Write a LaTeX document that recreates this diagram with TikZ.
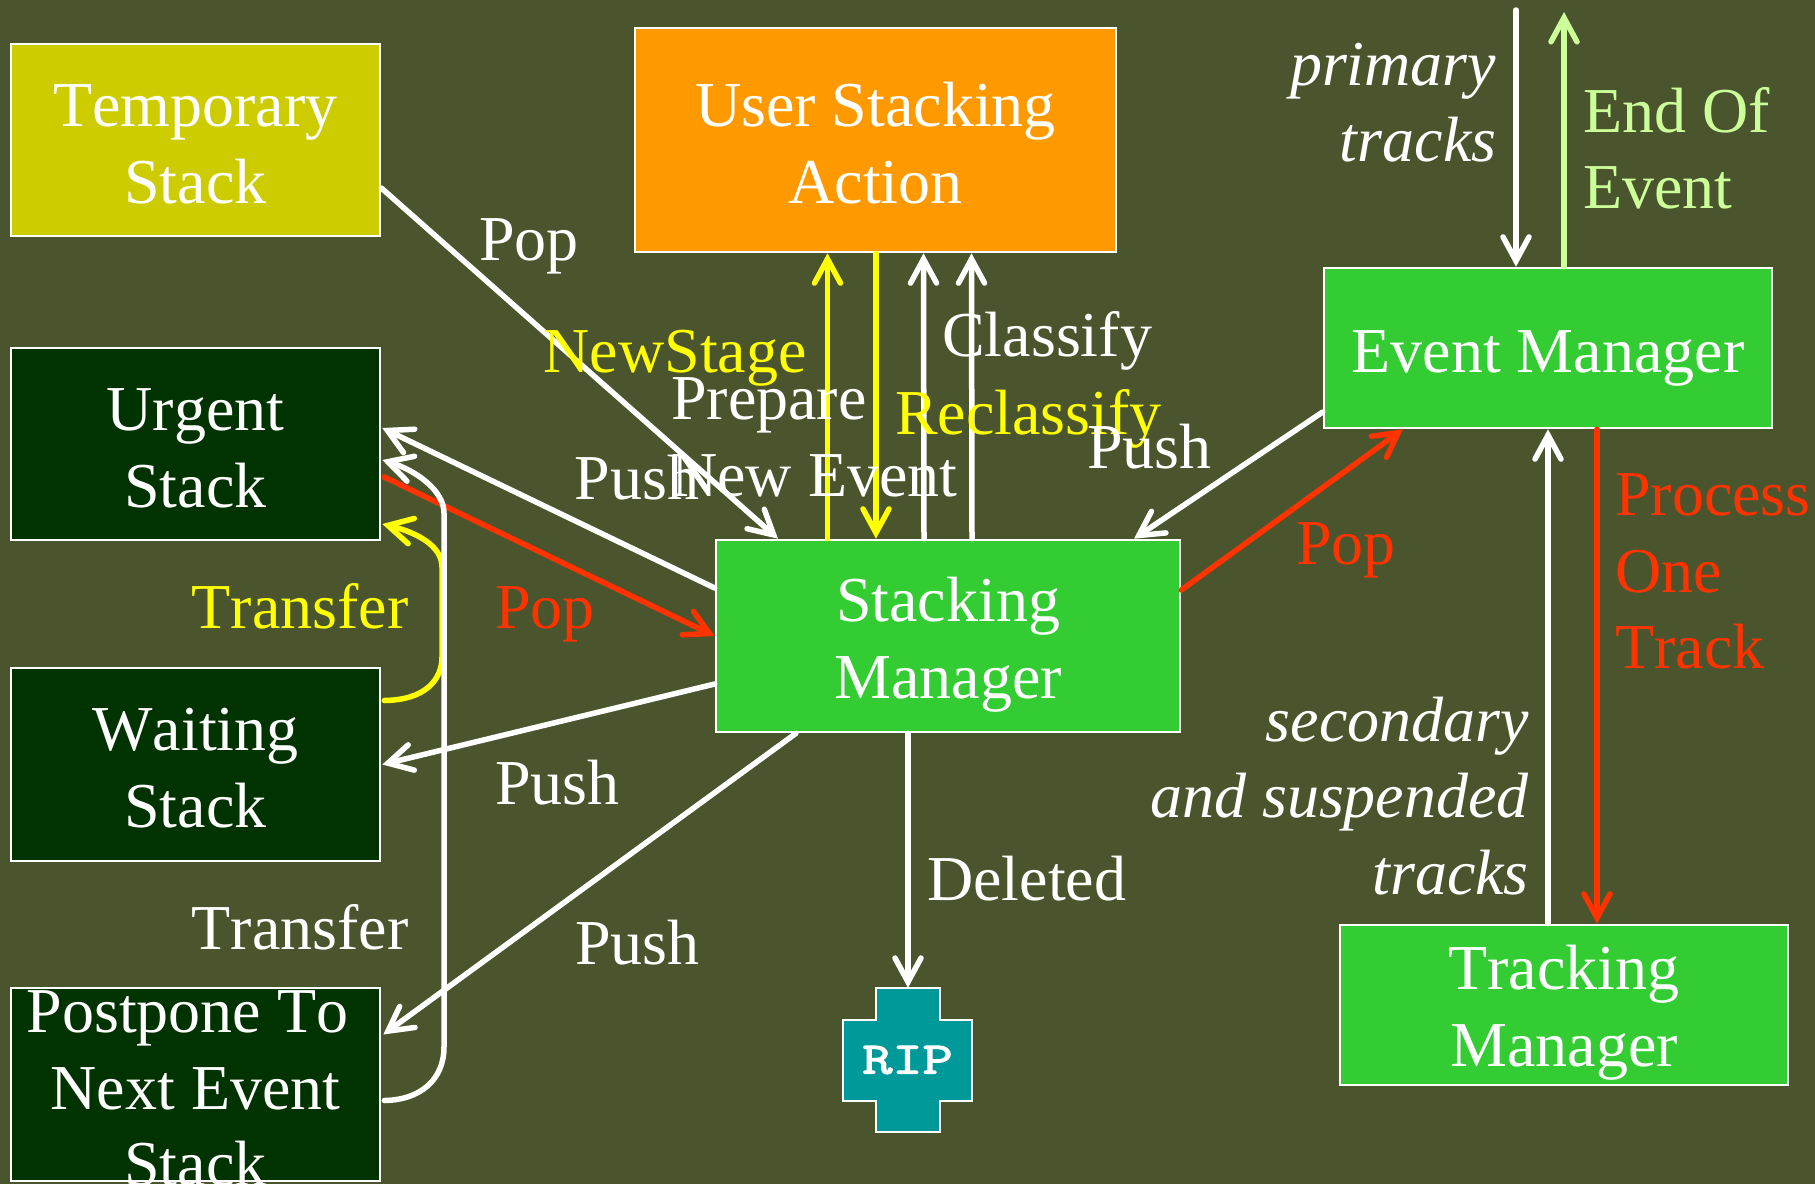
\documentclass[tikz,border=0pt]{standalone}
\usepackage{fontspec}
\setmainfont[Kerning=Off]{Liberation Serif}
\newfontfamily\ripfont[FakeBold=2.5]{Latin Modern Mono}
\usetikzlibrary{arrows.meta}
\definecolor{bgc}{HTML}{4A552D}
\definecolor{orangec}{HTML}{FF9900}
\definecolor{olivec}{HTML}{CCCC00}
\definecolor{darkc}{HTML}{003300}
\definecolor{greenc}{HTML}{33CC33}
\definecolor{tealc}{HTML}{009999}
\definecolor{redc}{HTML}{FF3300}
\definecolor{yelc}{HTML}{FFFF00}
\definecolor{lgreenc}{HTML}{CCFF99}
\newcommand{\tallrule}[1]{\rule{0pt}{#1pt}}
\tikzset{
  box/.style={draw=white,line width=2.6pt,inner sep=0pt,text=white,align=center,
    font=\fontsize{64}{77}\selectfont},
  lbl/.style={inner sep=0pt,text=white,font=\fontsize{64}{76.6}\selectfont},
  conn/.style={line width=5.5pt,line cap=round,white},
  ar/.style={conn,-{Straight Barb[length=24pt,width=26pt,line cap=round,line join=miter]}},
}
\begin{document}
\begin{tikzpicture}[x=1pt,y=-1pt]
\path[use as bounding box,fill=bgc] (0,0) rectangle (1815,1184);
% boxes
\node[box,fill=olivec,minimum width=369pt,minimum height=192pt] (temp) at (195.5,140) {\tallrule{51}Temporary\\Stack};
\node[box,fill=orangec,minimum width=481pt,minimum height=224pt] (user) at (875.5,140) {\tallrule{50}User Stacking\\Action};
\node[box,fill=darkc,minimum width=369pt,minimum height=192pt] (urgent) at (195.5,444) {\tallrule{51}Urgent\\Stack};
\node[box,fill=darkc,minimum width=369pt,minimum height=193pt] (waiting) at (195.5,764.5) {\tallrule{49}Waiting\\Stack};
\node[box,fill=darkc,minimum width=369pt,minimum height=193pt] (post) at (195.5,1084.5) {};
\node[lbl,align=center,font=\fontsize{64}{76.6}\selectfont] (postlabel) at (195.5,1085) {\tallrule{49}Postpone To\hspace*{16pt}\\Next Event\\Stack};
\node[box,fill=greenc,minimum width=464pt,minimum height=192pt] (stack) at (948,636) {\tallrule{62}Stacking\\Manager};
\node[box,fill=greenc,minimum width=448pt,minimum height=160pt] (event) at (1548,348) {\tallrule{63}Event Manager};
\node[box,fill=greenc,minimum width=448pt,minimum height=160pt] (track) at (1564,1005) {\tallrule{60}Tracking\\Manager};
\draw[white,line width=2.6pt,fill=tealc] (876,988) -- (940,988) -- (940,1020) -- (972,1020) -- (972,1101) -- (940,1101) -- (940,1132) -- (876,1132) -- (876,1101) -- (843,1101) -- (843,1020) -- (876,1020) -- cycle;
\node[inner sep=0pt,minimum width=129pt,minimum height=144pt,text=white,font=\fontsize{45}{50}\selectfont\ripfont] (rip) at (907.5,1060) {\scalebox{1.3}[1]{RIP}};
\coordinate (primtop) at (1516,10);
\coordinate (eoetop) at (1564,12);
% connectors
\draw[ar] ([yshift=-48pt]temp.east) -- ([xshift=-170pt]stack.north);
\draw[ar] ([yshift=48pt]stack.west) -- ([yshift=16pt,xshift=1pt]urgent.east);
\draw[ar,redc] ([yshift=-33pt,xshift=3pt]urgent.east) -- (stack.west);
\draw[ar,yelc] ([yshift=64pt,xshift=3pt]waiting.east) .. controls (425,700) and (442,680) .. (442,657) -- (442,567) .. controls (442,545) and (415,532) .. ([yshift=-80pt,xshift=1pt]urgent.east);
\draw[ar] ([yshift=-16pt,xshift=3pt]post.east) .. controls (420,1100) and (444,1080) .. (444,1047) -- (444,513) .. controls (444,490) and (415,470) .. ([yshift=-16pt,xshift=1pt]urgent.east);
\draw[ar] ([yshift=-48pt]stack.west) -- ([xshift=1pt]waiting.east);
\draw[ar] ([xshift=-152pt]stack.south) -- ([yshift=50pt,xshift=2pt]post.east);
\draw[ar] ([xshift=-40pt]stack.south) -- ([xshift=.5pt]rip.north);
\draw[ar,yelc] ([xshift=-120.5pt]stack.north) -- ([xshift=-48pt]user.south);
\draw[ar,yelc] ([xshift=.5pt]user.south) -- ([xshift=-72pt]stack.north);
\draw[ar] ([xshift=-24pt]stack.north) -- ([xshift=48pt]user.south);
\draw[ar] ([xshift=24pt]stack.north) -- ([xshift=96pt]user.south);
\draw[ar] ([yshift=-64pt]event.west) -- ([xshift=186pt]stack.north);
\draw[ar,redc] ([yshift=46pt]stack.east) -- ([xshift=-145pt]event.south);
\draw[ar] (primtop) -- ([xshift=-32pt]event.north);
\draw[ar,lgreenc] ([xshift=16pt]event.north) -- (eoetop);
\draw[ar] ([xshift=-16pt]track.north) -- (event.south);
\draw[ar,redc] ([xshift=49pt]event.south) -- ([xshift=33pt]track.north);
% labels
\node[lbl,anchor=base west] (l1) at (479,260) {Pop};
\node[lbl,anchor=base west,text=yelc] (l2) at (543.5,372) {NewStage};
\node[lbl,anchor=north west,align=left] (l3) at (671,377.5) {Prepare\\New Event};
\node[lbl,anchor=base west] (l4) at (574.5,499) {Push};
\node[lbl,anchor=base west] (l5) at (942,356) {Classify};
\node[lbl,anchor=base west,text=yelc] (l6) at (895,434) {Reclassify};
\node[lbl,anchor=base west] (l7) at (1087,468) {Push};
\node[lbl,anchor=base west,text=redc] (l8) at (495,628) {Pop};
\node[lbl,anchor=base west,text=yelc] (l9) at (191.5,628) {Transfer};
\node[lbl,anchor=base west,text=redc] (l10) at (1296,564.5) {Pop};
\node[lbl,anchor=north west,align=left,text=redc] (l11) at (1615,473.5) {Process\\One\\Track};
\node[lbl,anchor=north east,align=right,font=\fontsize{64}{76.6}\selectfont\itshape] (l12) at (1529,696.5) {secondary\\and suspended\\tracks};
\node[lbl,anchor=north east,align=right,font=\fontsize{64}{76.6}\selectfont\itshape] (l13) at (1496.5,42.5) {primary\\tracks};
\node[lbl,anchor=north west,align=left,text=lgreenc] (l14) at (1583,87) {End Of\\Event};
\node[lbl,anchor=base west] (l15) at (495,804) {Push};
\node[lbl,anchor=base west] (l16) at (575,964) {Push};
\node[lbl,anchor=base west] (l17) at (191.5,949) {Transfer};
\node[lbl,anchor=base west] (l18) at (927,900) {Deleted};
\end{tikzpicture}
\end{document}
